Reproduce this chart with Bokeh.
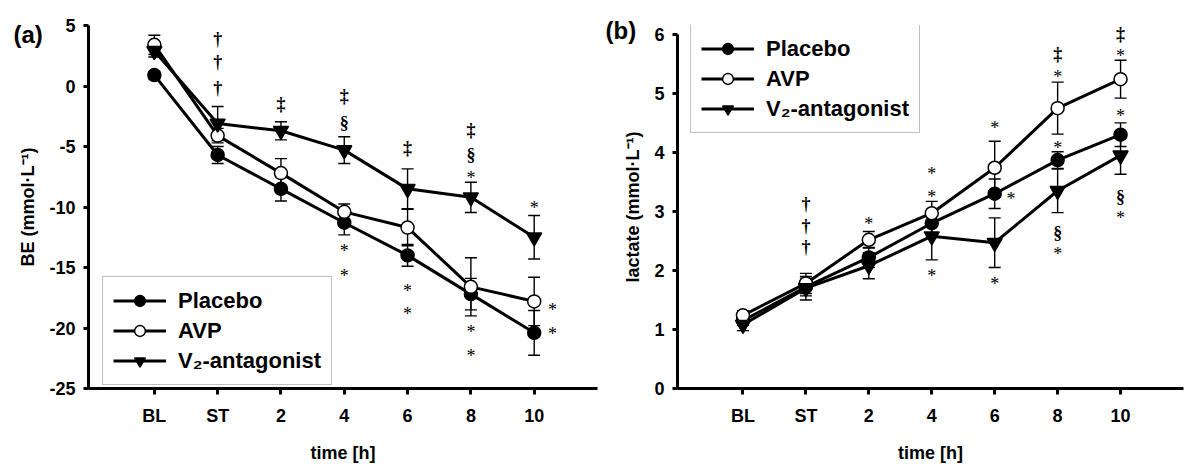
from bokeh.plotting import figure
from bokeh.models import (Range1d, ColumnDataSource, Whisker, TeeHead, Legend,
                          LegendItem, LabelSet, FixedTicker, Title)
from bokeh.layouts import row
from bokeh.embed import file_html
from bokeh.resources import INLINE

# ---------------- data ----------------
time_labels = ["BL", "ST", "2", "4", "6", "8", "10"]
time_pos = [0, 1, 2, 3, 4, 5, 6]

# (a) base excess, mmol/L
be_placebo = [0.9, -5.7, -8.5, -11.3, -14.0, -17.2, -20.4]
be_placebo_err = [0.3, 0.7, 1.0, 1.0, 0.9, 1.3, 1.85]
be_avp = [3.4, -4.1, -7.2, -10.4, -11.7, -16.6, -17.8]
be_avp_err = [0.8, 0.6, 1.2, 0.65, 1.5, 2.4, 2.0]
be_v2 = [2.9, -3.1, -3.7, -5.3, -8.5, -9.2, -12.5]
be_v2_err = [0.5, 1.4, 0.75, 1.1, 1.65, 1.25, 1.8]
be_ticks = [-25, -20, -15, -10, -5, 0, 5]

# (b) lactate, mmol/L
lac_placebo = [1.15, 1.72, 2.22, 2.80, 3.30, 3.87, 4.30]
lac_placebo_err = [0.08, 0.15, 0.17, 0.2, 0.25, 0.14, 0.2]
lac_avp = [1.24, 1.78, 2.52, 2.97, 3.74, 4.75, 5.24]
lac_avp_err = [0.08, 0.17, 0.14, 0.2, 0.45, 0.44, 0.32]
lac_v2 = [1.08, 1.70, 2.08, 2.58, 2.47, 3.35, 3.95]
lac_v2_err = [0.1, 0.2, 0.22, 0.4, 0.42, 0.37, 0.32]
lac_ticks = [0, 1, 2, 3, 4, 5, 6]

# significance marks (a)
be_sym_x = [1, 1, 1, 2, 3, 3, 4, 5, 5]
be_sym_y = [3.9, 2.0, -0.17, -1.5, -0.8, -3.05, -5.1, -3.6, -5.7]
be_sym_text = ["†", "†", "†", "‡", "‡", "§", "‡", "‡", "§"]
be_star_x = [5, 6, 3, 3, 4, 4, 5, 5, 6.29, 6.29]
be_star_y = [-7.3, -9.75, -13.3, -15.4, -16.6, -18.5, -20.0, -22.0, -18.2, -20.2]

# significance marks (b)
lac_sym_x = [1, 1, 1, 5, 5, 6, 6]
lac_sym_y = [3.13, 2.75, 2.39, 5.67, 2.64, 6.0, 3.25]
lac_sym_text = ["†", "†", "†", "‡", "§", "‡", "§"]
lac_star_x = [2, 3, 3, 3, 4, 4.26, 4, 5, 5, 5, 6, 6, 6]
lac_star_y = [2.85, 3.71, 3.32, 1.97, 4.48, 3.28, 1.84, 5.34, 4.15, 2.35, 5.7, 4.68, 2.95]

series_names = ["Placebo", "AVP", "V₂-antagonist"]

FONT = "Liberation Sans"


def make_panel(tag, tag_offset, tag_standoff, ylabel, yr, ytop, yticks, series, errs, sym, star,
               legend_loc, border_left, border_top, border_right, border_bottom):
    p = figure(width=600, height=475, x_range=Range1d(-1.04, 7.0), y_range=Range1d(yr[0], ytop),
               output_backend="svg", toolbar_location=None,
               min_border_left=border_left, min_border_right=border_right,
               min_border_top=border_top, min_border_bottom=border_bottom)
    p.outline_line_color = None
    p.grid.visible = False
    p.background_fill_color = "white"
    p.border_fill_color = "white"

    # panel tag "(a)" / "(b)"
    p.title = Title(text=tag, align="left", offset=tag_offset, standoff=tag_standoff,
                    vertical_align="bottom", text_font=FONT, text_font_style="bold",
                    text_font_size="24px", text_color="black")

    # axes
    p.xaxis.ticker = FixedTicker(ticks=time_pos, minor_ticks=[])
    p.xaxis.major_label_overrides = {i: lab for i, lab in zip(time_pos, time_labels)}
    p.yaxis.ticker = FixedTicker(ticks=yticks, minor_ticks=[])
    p.yaxis.major_label_overrides = {t: str(t) for t in yticks}
    p.yaxis.bounds = yr
    for ax in (p.xaxis[0], p.yaxis[0]):
        ax.axis_line_width = 3
        ax.axis_line_color = "black"
        ax.major_tick_line_width = 3
        ax.major_tick_line_color = "black"
        ax.major_tick_in = 0
        ax.minor_tick_line_color = None
        ax.major_label_text_font = FONT
        ax.major_label_text_font_style = "bold"
        ax.major_label_text_font_size = "18px"
        ax.major_label_text_color = "black"
        ax.axis_label_text_font = FONT
        ax.axis_label_text_font_style = "bold"
        ax.axis_label_text_font_size = "18px"
        ax.axis_label_text_color = "black"
    p.xaxis.major_tick_out = 6
    p.yaxis.major_tick_out = 5
    p.xaxis.major_label_standoff = 11
    p.yaxis.major_label_standoff = 8
    p.xaxis.axis_label = "time [h]"
    p.xaxis.axis_label_standoff = 14
    p.yaxis.axis_label = ylabel
    p.yaxis.axis_label_standoff = 8

    styles = [
        dict(marker="circle", size=13, fill_color="black"),
        dict(marker="circle", size=13, fill_color="white"),
        dict(marker="inverted_triangle", size=15, fill_color="black"),
    ]
    items = []
    for name, ys, es, st in zip(series_names, series, errs, styles):
        src = ColumnDataSource(dict(x=time_pos, y=ys,
                                    upper=[v + e for v, e in zip(ys, es)],
                                    lower=[v - e for v, e in zip(ys, es)]))
        w = Whisker(source=src, base="x", upper="upper", lower="lower", dimension="height",
                    line_color="black", line_width=1.4, level="underlay",
                    upper_head=TeeHead(size=12, line_width=1.4, line_color="black"),
                    lower_head=TeeHead(size=12, line_width=1.4, line_color="black"))
        p.add_layout(w)
        lr = p.line("x", "y", source=src, line_color="black", line_width=3)
        sr = p.scatter("x", "y", source=src, marker=st["marker"], size=st["size"],
                       fill_color=st["fill_color"], line_color="black", line_width=1.5)
        items.append(LegendItem(label=name, renderers=[lr, sr]))

    sx, sy, stext = sym
    sym_src = ColumnDataSource(dict(x=sx, y=sy, t=stext))
    p.add_layout(LabelSet(x="x", y="y", text="t", source=sym_src, text_align="center",
                          text_baseline="middle", text_font=FONT, text_font_style="bold",
                          text_font_size="18px", text_color="black"))
    ax_, ay_ = star
    star_src = ColumnDataSource(dict(x=ax_, y=ay_, t=["*"] * len(ax_)))
    p.add_layout(LabelSet(x="x", y="y", text="t", source=star_src, text_align="center",
                          text_baseline="middle", y_offset=-4, text_font=FONT,
                          text_font_size="18px", text_color="black"))

    legend = Legend(items=items, location=legend_loc, margin=0, padding=10, spacing=3,
                    label_height=27, glyph_height=27, glyph_width=53, label_standoff=12,
                    border_line_color="#808080", border_line_width=1.5,
                    background_fill_color="white", background_fill_alpha=1.0,
                    label_text_font=FONT, label_text_font_style="bold",
                    label_text_font_size="22px", label_text_color="black")
    p.add_layout(legend)
    return p


pa = make_panel("(a)", -75, -44, "BE (mmol·L⁻¹)", (-25, 5), 5, be_ticks,
                [be_placebo, be_avp, be_v2], [be_placebo_err, be_avp_err, be_v2_err],
                (be_sym_x, be_sym_y, be_sym_text), (be_star_x, be_star_y), (14, 3),
                88, 25, 3, 87)
pb = make_panel("(b)", -72, -36, "lactate (mmol·L⁻¹)", (0, 6), 6.15, lac_ticks,
                [lac_placebo, lac_avp, lac_v2], [lac_placebo_err, lac_avp_err, lac_v2_err],
                (lac_sym_x, lac_sym_y, lac_sym_text), (lac_star_x, lac_star_y), (13, 255),
                77, 18, 17, 86)

layout = row(pa, pb)
open("out.html", "w").write(file_html(layout, INLINE))
